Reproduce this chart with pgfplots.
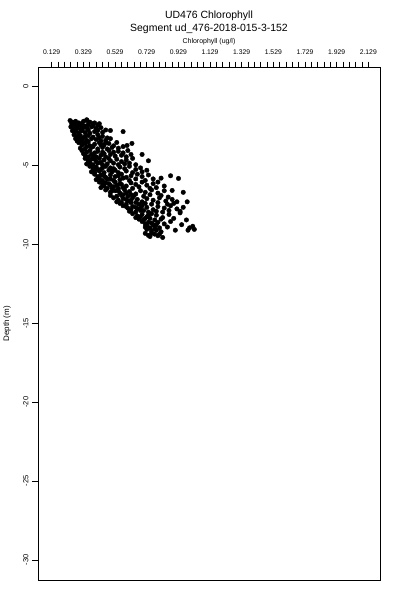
\documentclass[border=0pt]{standalone}
\usepackage{fontspec}
\setmainfont{Liberation Sans}
\usepackage{pgfplots}
\pgfplotsset{compat=1.18}
\begin{document}
\begin{tikzpicture}[x=1bp,y=1bp]
\useasboundingbox (0,0) rectangle (400,600);
\begin{axis}[
  at={(38bp,20bp)}, anchor=south west,
  scale only axis, width=342bp, height=512.3bp,
  xmin=0.0425, xmax=2.203, ymin=-31.27, ymax=1.2,
  axis line style={line width=0.8bp},
  xtick pos=right, xticklabel pos=right, ytick pos=left,
  tick align=outside, major tick length=6bp, minor tick length=6bp,
  every tick/.style={black, line width=0.7bp},
  xtick={0.129,0.329,0.529,0.729,0.929,1.129,1.329,1.529,1.729,1.929,2.129},
  xticklabels={0.129,0.329,0.529,0.729,0.929,1.129,1.329,1.529,1.729,1.929,2.129},
  minor xtick={0.169,0.209,0.249,0.289,0.369,0.409,0.449,0.489,0.569,0.609,0.649,0.689,0.769,0.809,0.849,0.889,0.969,1.009,1.049,1.089,1.169,1.209,1.249,1.289,1.369,1.409,1.449,1.489,1.569,1.609,1.649,1.689,1.769,1.809,1.849,1.889,1.969,2.009,2.049,2.089},
  ytick={0,-5,-10,-15,-20,-25,-30},
  yticklabels={0,-5,-10,-15,-20,-25,-30},
  xticklabel style={font=\fontsize{6.8}{8}\selectfont, yshift=4bp},
  yticklabel style={rotate=90, anchor=south, font=\fontsize{7.5}{9}\selectfont},
  xlabel={Chlorophyll (ug/l)},
  xlabel style={at={(axis description cs:0.5,1.051)}, anchor=center, font=\fontsize{7}{8}\selectfont},
  ylabel={Depth (m)},
  ylabel style={at={(axis description cs:-0.0906,0.5)}, anchor=center, rotate=0, font=\fontsize{8}{9}\selectfont},
  title={UD476 Chlorophyll\\Segment ud\_476-2018-015-3-152},
  title style={at={(axis description cs:0.5,1.0774)}, anchor=center, align=center, font=\fontsize{10.5}{13}\selectfont},
]
\addplot[only marks, mark=*, mark size=2.25bp, black] coordinates {
(0.245,-2.15) (0.26,-2.25) (0.28,-2.2) (0.30,-2.3) (0.32,-2.35) (0.35,-2.1) (0.37,-2.25) (0.40,-2.3) (0.27,-2.4) (0.31,-2.45) (0.43,-2.35) (0.34,-2.5)
(0.352,-2.15) (0.39,-2.34) (0.42,-2.78) (0.50,-2.78) (0.58,-2.85)
(0.25,-2.55) (0.27,-2.65) (0.29,-2.6) (0.31,-2.7) (0.33,-2.6) (0.36,-2.75) (0.38,-2.55) (0.41,-2.65) (0.44,-2.6) (0.28,-2.85) (0.30,-2.95) (0.34,-2.9) (0.37,-2.95) (0.40,-2.85) (0.45,-2.9) (0.47,-2.75) (0.26,-2.8)
(0.27,-3.05) (0.29,-3.15) (0.31,-3.1) (0.33,-3.25) (0.36,-3.1) (0.39,-3.2) (0.42,-3.05) (0.45,-3.15) (0.48,-3.25) (0.30,-3.35) (0.32,-3.45) (0.35,-3.4) (0.41,-3.35) (0.44,-3.45) (0.47,-3.4) (0.50,-3.3) (0.29,-3.45)
(0.54,-3.54) (0.605,-3.73) (0.636,-3.6) (0.70,-4.3)
(0.30,-3.55) (0.32,-3.7) (0.34,-3.6) (0.37,-3.75) (0.40,-3.65) (0.43,-3.55) (0.46,-3.7) (0.49,-3.6) (0.52,-3.75) (0.31,-3.9) (0.34,-3.95) (0.38,-3.85) (0.42,-3.95) (0.45,-3.85) (0.48,-3.95) (0.51,-3.85) (0.55,-3.9) (0.58,-3.8)
(0.32,-4.05) (0.35,-4.15) (0.37,-4.05) (0.40,-4.2) (0.42,-4.1) (0.46,-4.25) (0.49,-4.05) (0.52,-4.15) (0.55,-4.1) (0.58,-4.2) (0.61,-4.05) (0.34,-4.35) (0.36,-4.45) (0.39,-4.4) (0.44,-4.35) (0.47,-4.45) (0.53,-4.4) (0.57,-4.35) (0.60,-4.45) (0.63,-4.3)
(0.34,-4.55) (0.36,-4.7) (0.38,-4.6) (0.41,-4.75) (0.43,-4.55) (0.46,-4.65) (0.50,-4.7) (0.54,-4.6) (0.57,-4.75) (0.60,-4.65) (0.64,-4.55) (0.35,-4.9) (0.39,-4.95) (0.42,-4.85) (0.45,-4.95) (0.48,-4.9) (0.55,-4.95) (0.59,-4.9) (0.62,-4.85) (0.66,-4.95) (0.74,-4.7)
(0.37,-5.05) (0.39,-5.2) (0.41,-5.1) (0.44,-5.25) (0.47,-5.05) (0.50,-5.15) (0.53,-5.3) (0.56,-5.1) (0.59,-5.2) (0.62,-5.05) (0.66,-5.25) (0.69,-5.15) (0.38,-5.4) (0.40,-5.45) (0.43,-5.35) (0.46,-5.45) (0.51,-5.4) (0.55,-5.45) (0.60,-5.35) (0.64,-5.45) (0.70,-5.4) (0.73,-5.3)
(0.40,-5.55) (0.42,-5.7) (0.44,-5.6) (0.47,-5.75) (0.50,-5.6) (0.53,-5.7) (0.57,-5.55) (0.60,-5.75) (0.63,-5.65) (0.67,-5.55) (0.70,-5.7) (0.74,-5.6) (0.41,-5.9) (0.45,-5.95) (0.48,-5.85) (0.52,-5.95) (0.56,-5.9) (0.62,-5.95) (0.66,-5.85) (0.72,-5.95) (0.77,-5.85) (0.88,-5.65) (0.82,-5.8)
(0.93,-5.82) (0.96,-6.7) (0.89,-6.58) (0.865,-7.0) (0.985,-7.3)
(0.43,-6.05) (0.45,-6.2) (0.47,-6.1) (0.50,-6.25) (0.53,-6.05) (0.56,-6.15) (0.60,-6.3) (0.63,-6.1) (0.66,-6.2) (0.70,-6.05) (0.73,-6.25) (0.77,-6.15) (0.80,-6.05) (0.44,-6.4) (0.48,-6.45) (0.52,-6.35) (0.55,-6.45) (0.58,-6.4) (0.64,-6.45) (0.68,-6.35) (0.75,-6.45) (0.79,-6.4) (0.84,-6.3)
(0.47,-6.55) (0.50,-6.7) (0.53,-6.6) (0.56,-6.75) (0.59,-6.55) (0.62,-6.65) (0.66,-6.8) (0.69,-6.6) (0.72,-6.7) (0.76,-6.55) (0.80,-6.75) (0.84,-6.6) (0.50,-6.9) (0.54,-6.95) (0.58,-6.85) (0.61,-6.95) (0.65,-6.9) (0.71,-6.95) (0.75,-6.85) (0.82,-6.9)
(0.52,-7.05) (0.55,-7.2) (0.58,-7.1) (0.61,-7.25) (0.64,-7.05) (0.67,-7.15) (0.70,-7.3) (0.73,-7.1) (0.77,-7.2) (0.81,-7.05) (0.85,-7.25) (0.89,-7.15) (0.92,-7.3) (0.56,-7.4) (0.60,-7.45) (0.63,-7.35) (0.68,-7.45) (0.72,-7.4) (0.76,-7.45) (0.80,-7.35) (0.86,-7.45) (0.90,-7.4)
(0.58,-7.55) (0.61,-7.7) (0.64,-7.6) (0.67,-7.75) (0.70,-7.55) (0.73,-7.65) (0.77,-7.8) (0.80,-7.6) (0.84,-7.7) (0.88,-7.55) (0.92,-7.75) (0.96,-7.65) (0.62,-7.9) (0.66,-7.95) (0.69,-7.85) (0.74,-7.95) (0.79,-7.9) (0.83,-7.95) (0.87,-7.85) (0.94,-7.9)
(0.64,-8.05) (0.67,-8.2) (0.70,-8.1) (0.73,-8.25) (0.76,-8.05) (0.79,-8.15) (0.83,-8.3) (0.87,-8.1) (0.94,-8.0) (0.68,-8.4) (0.71,-8.45) (0.75,-8.35) (0.78,-8.45) (0.82,-8.4) (0.90,-8.35) (0.98,-8.45)
(0.70,-8.55) (0.72,-8.7) (0.74,-8.6) (0.77,-8.75) (0.80,-8.6) (0.84,-8.7) (0.88,-8.55) (0.95,-8.75) (0.72,-8.9) (0.75,-8.95) (0.78,-8.85) (0.81,-8.95) (0.86,-8.9) (1.00,-8.95) (1.02,-8.85)
(0.73,-9.05) (0.76,-9.15) (0.79,-9.1) (0.82,-9.2) (0.74,-9.43) (0.78,-9.35) (0.83,-9.56) (0.91,-9.1) (0.99,-9.1) (1.03,-9.05) (0.72,-9.3) (0.80,-9.45)
(0.255,-2.35) (0.29,-2.45) (0.33,-2.2) (0.36,-2.4) (0.39,-2.5) (0.28,-2.75) (0.32,-2.8) (0.35,-2.6) (0.42,-2.45)
(0.28,-3.3) (0.31,-3.25) (0.34,-3.15) (0.38,-3.3) (0.43,-3.25) (0.33,-3.55) (0.36,-3.5) (0.39,-3.8) (0.44,-3.7) (0.35,-3.8) (0.47,-3.55)
(0.33,-4.25) (0.38,-4.3) (0.41,-4.45) (0.45,-4.15) (0.50,-4.3) (0.37,-4.8) (0.40,-4.6) (0.44,-4.8) (0.49,-4.55) (0.52,-4.85)
(0.40,-5.3) (0.42,-5.25) (0.45,-5.15) (0.49,-5.3) (0.52,-5.2) (0.43,-5.8) (0.46,-5.65) (0.50,-5.85) (0.55,-5.65) (0.58,-5.8)
(0.46,-6.3) (0.49,-6.15) (0.51,-6.4) (0.54,-6.25) (0.57,-6.2) (0.51,-6.6) (0.55,-6.6) (0.57,-6.9) (0.60,-6.75) (0.63,-6.85)
(0.54,-7.3) (0.57,-7.35) (0.60,-7.15) (0.63,-7.2) (0.66,-7.35) (0.60,-7.6) (0.63,-7.8) (0.66,-7.65) (0.69,-7.7) (0.71,-7.85)
(0.66,-8.3) (0.69,-8.25) (0.72,-8.35) (0.74,-8.15) (0.73,-8.8) (0.76,-8.65) (0.79,-8.75) (0.76,-9.3) (0.78,-9.0) (0.81,-9.35) (0.75,-9.5)
};
\end{axis}
\end{tikzpicture}
\end{document}
